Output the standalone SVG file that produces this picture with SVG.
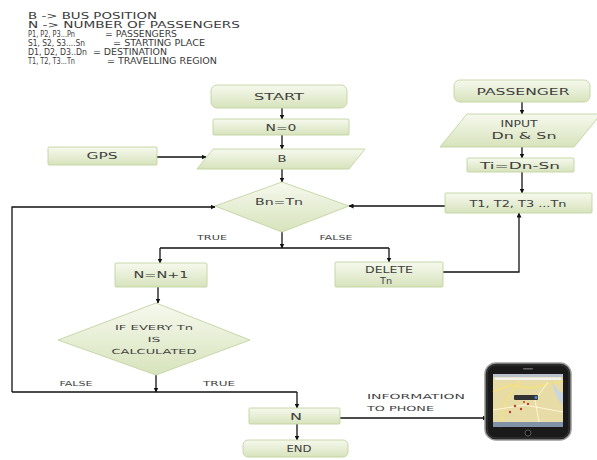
<svg xmlns="http://www.w3.org/2000/svg" width="597" height="460" viewBox="0 0 597 460">
<defs>
<linearGradient id="g" x1="0" y1="0" x2="0" y2="1">
<stop offset="0" stop-color="#f6f9ee"/>
<stop offset="1" stop-color="#d7e3bc"/>
</linearGradient>
<marker id="a" viewBox="0 0 10 10" refX="9" refY="5" markerWidth="5" markerHeight="5" orient="auto" markerUnits="userSpaceOnUse">
<path d="M0,0 L10,5 L0,10 z" fill="#111"/>
</marker>
</defs>
<style>
.n{fill:url(#g);stroke:#c2d4a2;stroke-width:0.9}
.t{font-family:"DejaVu Sans",sans-serif;font-size:8.5px;fill:#3f3f3f;text-anchor:middle}
.l{font-family:"DejaVu Sans",sans-serif;font-size:7px;fill:#3f3f3f;text-anchor:middle}
.g1{font-family:"DejaVu Sans",sans-serif;font-size:8.5px;fill:#3a3a3a}
.g2{font-family:"DejaVu Sans",sans-serif;font-size:8px;fill:#3a3a3a}
.c{fill:none;stroke:#111;stroke-width:1.3}
.ca{fill:none;stroke:#111;stroke-width:1.3;marker-end:url(#a)}
</style>
<rect width="597" height="460" fill="#ffffff"/>

<g id="legend">
<text class="g1" x="28" y="19" textLength="129" lengthAdjust="spacingAndGlyphs">B -&gt; BUS POSITION</text>
<text class="g1" x="28" y="28" textLength="212" lengthAdjust="spacingAndGlyphs">N -&gt; NUMBER OF PASSENGERS</text>
<text class="g2" x="28" y="36.5" textLength="47" lengthAdjust="spacingAndGlyphs">P1, P2, P3...Pn</text>
<text class="g2" x="105" y="36.5" textLength="72" lengthAdjust="spacingAndGlyphs">= PASSENGERS</text>
<text class="g2" x="28" y="45.5" textLength="57" lengthAdjust="spacingAndGlyphs">S1, S2, S3....Sn</text>
<text class="g2" x="113" y="45.5" textLength="92" lengthAdjust="spacingAndGlyphs">= STARTING PLACE</text>
<text class="g2" x="28" y="54.5" textLength="59" lengthAdjust="spacingAndGlyphs">D1, D2, D3..Dn</text>
<text class="g2" x="93" y="54.5" textLength="74" lengthAdjust="spacingAndGlyphs">= DESTINATION</text>
<text class="g2" x="28" y="63.5" textLength="47" lengthAdjust="spacingAndGlyphs">T1, T2, T3...Tn</text>
<text class="g2" x="107" y="63.5" textLength="110" lengthAdjust="spacingAndGlyphs">= TRAVELLING REGION</text>
</g>

<g id="connectors">
<line class="ca" x1="282" y1="108" x2="282" y2="119"/>
<line class="ca" x1="282" y1="135" x2="282" y2="149"/>
<line class="ca" x1="157" y1="157" x2="206" y2="157"/>
<line class="ca" x1="282" y1="169" x2="282" y2="182"/>
<line class="ca" x1="445" y1="206" x2="349" y2="206"/>
<path class="ca" d="M12,392 V207 H215"/>
<line class="ca" x1="282" y1="232" x2="282" y2="248"/>
<path class="c" d="M160,248 H389"/>
<line class="ca" x1="160" y1="248" x2="160" y2="263"/>
<line class="ca" x1="389" y1="248" x2="389" y2="262"/>
<line class="ca" x1="158" y1="287" x2="158" y2="303"/>
<line class="ca" x1="156" y1="375" x2="156" y2="392"/>
<path class="c" d="M12,392 H297"/>
<line class="ca" x1="297" y1="392" x2="297" y2="408"/>
<path class="ca" d="M443,272 H519 V213"/>
<line class="ca" x1="522" y1="102" x2="522" y2="114"/>
<line class="ca" x1="522" y1="147" x2="522" y2="158"/>
<line class="ca" x1="522" y1="172" x2="522" y2="193"/>
<line class="ca" x1="297" y1="424" x2="297" y2="440"/>
<line class="ca" x1="340" y1="418" x2="487" y2="418"/>
</g>

<g id="labels">
<text class="l" x="212" y="240" textLength="30" lengthAdjust="spacingAndGlyphs">TRUE</text>
<text class="l" x="336" y="240" textLength="33" lengthAdjust="spacingAndGlyphs">FALSE</text>
<text class="l" x="76" y="386" textLength="33" lengthAdjust="spacingAndGlyphs">FALSE</text>
<text class="l" x="219" y="386" textLength="32" lengthAdjust="spacingAndGlyphs">TRUE</text>
<text class="l" x="367" y="399" style="text-anchor:start" textLength="98" lengthAdjust="spacingAndGlyphs">INFORMATION</text>
<text class="l" x="367" y="411" style="text-anchor:start" textLength="67" lengthAdjust="spacingAndGlyphs">TO PHONE</text>
</g>

<g id="start">
<rect class="n" x="211" y="85" width="136" height="23" rx="6"/>
<text class="t" x="279" y="100" textLength="50" lengthAdjust="spacingAndGlyphs">START</text>
</g>
<g id="n0">
<rect class="n" x="213" y="119" width="136" height="16" rx="1"/>
<text class="t" x="281" y="130.5" textLength="31" lengthAdjust="spacingAndGlyphs">N=0</text>
</g>
<g id="b">
<polygon class="n" points="213,149 365,149 349,169 197,169"/>
<text class="t" x="282" y="162" textLength="9" lengthAdjust="spacingAndGlyphs">B</text>
</g>
<g id="gps">
<rect class="n" x="48" y="147" width="109" height="18" rx="1"/>
<text class="t" x="102" y="159" textLength="31" lengthAdjust="spacingAndGlyphs">GPS</text>
</g>
<g id="bntn">
<polygon class="n" points="282,182 349,206 282,232 215,206"/>
<text class="t" x="279" y="205" textLength="48" lengthAdjust="spacingAndGlyphs">Bn=Tn</text>
</g>
<g id="passenger">
<rect class="n" x="454" y="80" width="136" height="22" rx="6"/>
<text class="t" x="523" y="94.5" textLength="93" lengthAdjust="spacingAndGlyphs">PASSENGER</text>
</g>
<g id="input">
<polygon class="n" points="467,114 601,114 574,147 440,147"/>
<text class="t" x="519" y="127" textLength="37" lengthAdjust="spacingAndGlyphs">INPUT</text>
<text class="t" x="524" y="139" textLength="65" lengthAdjust="spacingAndGlyphs">Dn &amp; Sn</text>
</g>
<g id="ti">
<rect class="n" x="467" y="158" width="107" height="14" rx="1"/>
<text class="t" x="520" y="168.5" textLength="80" lengthAdjust="spacingAndGlyphs">Ti=Dn-Sn</text>
</g>
<g id="tlist">
<rect class="n" x="445" y="193" width="147" height="20" rx="1"/>
<text class="t" x="518" y="206.5" textLength="97" lengthAdjust="spacingAndGlyphs">T1, T2, T3 ...Tn</text>
</g>
<g id="nn1">
<rect class="n" x="115" y="263" width="92" height="24" rx="1"/>
<text class="t" x="161" y="278" textLength="55" lengthAdjust="spacingAndGlyphs">N=N+1</text>
</g>
<g id="delete">
<rect class="n" x="335" y="262" width="108" height="25" rx="1"/>
<text class="t" x="389" y="273" textLength="48" lengthAdjust="spacingAndGlyphs">DELETE</text>
<text class="t" x="386" y="284" textLength="12" lengthAdjust="spacingAndGlyphs">Tn</text>
</g>
<g id="ifevery">
<polygon class="n" points="156,303 250,340 156,375 58,340"/>
<text class="l" x="154" y="330" textLength="78" lengthAdjust="spacingAndGlyphs">IF EVERY Tn</text>
<text class="l" x="154" y="342" textLength="13" lengthAdjust="spacingAndGlyphs">IS</text>
<text class="l" x="154" y="354" textLength="85" lengthAdjust="spacingAndGlyphs">CALCULATED</text>
</g>
<g id="n">
<rect class="n" x="249" y="408" width="91" height="16" rx="1"/>
<text class="t" x="296" y="419.5" textLength="12" lengthAdjust="spacingAndGlyphs">N</text>
</g>
<g id="end">
<rect class="n" x="243" y="440" width="105" height="17" rx="5"/>
<text class="t" x="299" y="452" textLength="25" lengthAdjust="spacingAndGlyphs">END</text>
</g>

<g id="phone">
<rect x="485" y="363" width="86" height="77" rx="11" fill="#1a1a1a" stroke="#9a9a9a" stroke-width="1.5"/>
<rect x="487" y="365" width="82" height="73" rx="9" fill="none" stroke="#444" stroke-width="0.8"/>
<rect x="523" y="368" width="10" height="1.6" rx="0.8" fill="#666"/>
<rect x="493" y="374" width="70" height="53" fill="#e7dba6"/>
<rect x="493" y="374" width="70" height="3" fill="#b9c2cc"/>
<rect x="495" y="377.5" width="66" height="2.5" fill="#f2f2f2"/>
<path d="M493,392 L510,385 L530,388 L563,381" fill="none" stroke="#f4e27a" stroke-width="1.6"/>
<path d="M500,427 L506,400 L520,380" fill="none" stroke="#f4e27a" stroke-width="1.4"/>
<path d="M493,410 L525,405 L563,412" fill="none" stroke="#fff8d8" stroke-width="1"/>
<path d="M540,427 L535,400 L548,382" fill="none" stroke="#fff8d8" stroke-width="1"/>
<path d="M552,381 Q560,395 563,392 L563,405 Q555,398 552,381 z" fill="#c9d6e0"/>
<rect x="514" y="395" width="24" height="5" rx="1" fill="#333"/>
<circle cx="536" cy="397.5" r="1.5" fill="#4a8fd8"/>
<circle cx="515" cy="406" r="1.2" fill="#c0392b"/>
<circle cx="521" cy="409" r="1.2" fill="#c0392b"/>
<circle cx="528" cy="404" r="1.2" fill="#c0392b"/>
<circle cx="510" cy="412" r="1.2" fill="#c0392b"/>
<circle cx="524" cy="402" r="1" fill="#c0392b"/>
<rect x="493" y="422" width="70" height="5" fill="#7f92a8"/>
<circle cx="528" cy="433" r="3" fill="#111" stroke="#666" stroke-width="0.8"/>
</g>
</svg>
